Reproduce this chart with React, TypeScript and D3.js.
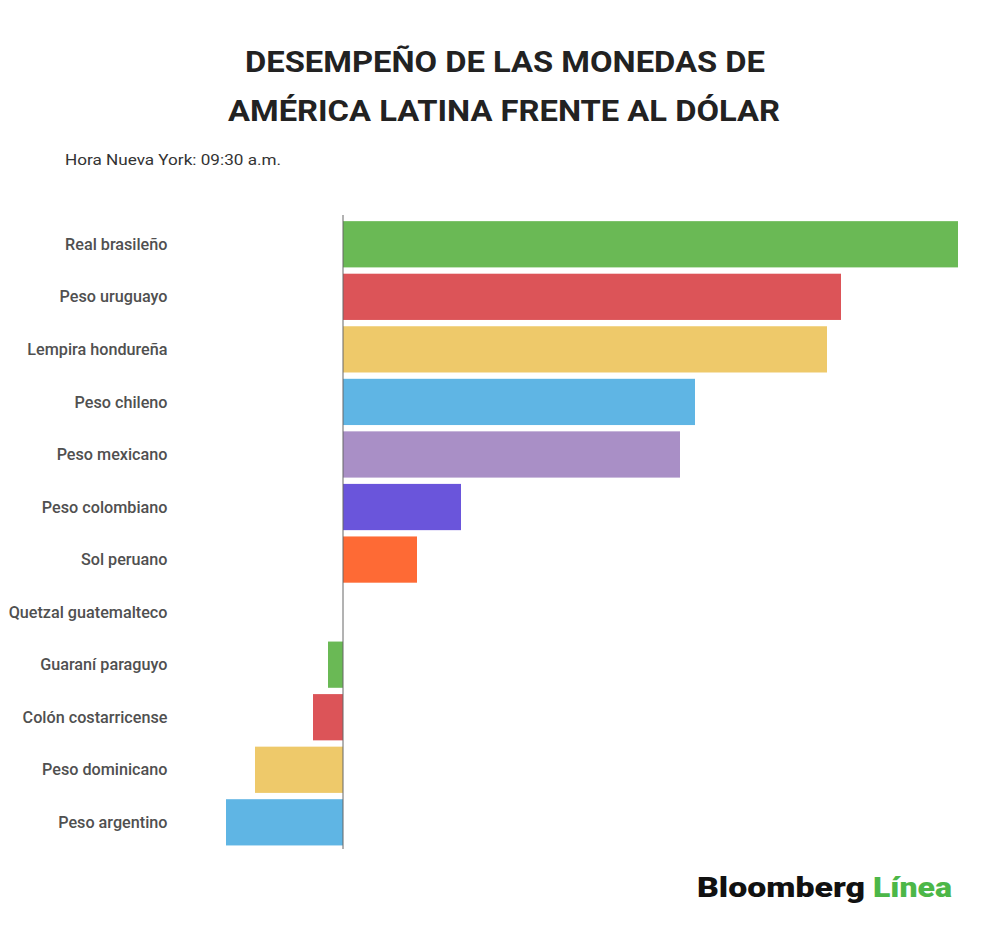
import React from 'react';
import * as d3 from 'd3';

// Currencies, top to bottom
const currencies = [
  'Real brasileño',
  'Peso uruguayo',
  'Lempira hondureña',
  'Peso chileno',
  'Peso mexicano',
  'Peso colombiano',
  'Sol peruano',
  'Quetzal guatemalteco',
  'Guaraní paraguyo',
  'Colón costarricense',
  'Peso dominicano',
  'Peso argentino',
];

// Change vs. dollar (%)
const changes = [1.23, 0.996, 0.968, 0.704, 0.674, 0.236, 0.148, 0, -0.03, -0.06, -0.176, -0.234];

// 8-colour cycle (the 8th falls on the zero-width Quetzal bar)
const palette = ['#6ab955', '#dc5458', '#eec96a', '#5fb5e4', '#a98fc6', '#6a55db', '#fe6a35', '#e36da5'];

const W = 1000;
const H = 925;

export default function App() {
  const x = d3
    .scaleLinear()
    .domain([d3.min(changes) as number, d3.max(changes) as number])
    .range([226, 958]);

  const y = d3
    .scaleBand<string>()
    .domain(currencies)
    .range([218, 848.6])
    .paddingInner(0.12)
    .paddingOuter(0.06);

  const x0 = x(0);

  return (
    <svg
      width={W}
      height={H}
      style={{ display: 'block', margin: '-8px 0 0 -8px', background: '#fff' }}
      fontFamily="Roboto, 'Noto Sans', sans-serif"
    >
      {/* Title */}
      <text
        x={505}
        y={72}
        textAnchor="middle"
        fontSize={30}
        fontWeight={700}
        fill="#222"
        textLength={520}
        lengthAdjust="spacingAndGlyphs"
      >
        DESEMPEÑO DE LAS MONEDAS DE
      </text>
      <text
        x={504}
        y={121}
        textAnchor="middle"
        fontSize={30}
        fontWeight={700}
        fill="#222"
        textLength={552}
        lengthAdjust="spacingAndGlyphs"
      >
        AMÉRICA LATINA FRENTE AL DÓLAR
      </text>
      <text
        x={65}
        y={165}
        fontSize={15}
        fill="#333"
        textLength={216}
        lengthAdjust="spacingAndGlyphs"
      >
        Hora Nueva York: 09:30 a.m.
      </text>

      {/* Bars */}
      {currencies.map((c, i) => {
        const v = changes[i];
        return (
          <rect
            key={c}
            x={Math.min(x(v), x0)}
            y={y(c)}
            width={Math.abs(x(v) - x0)}
            height={y.bandwidth()}
            fill={palette[i % palette.length]}
          />
        );
      })}

      {/* Category labels */}
      {currencies.map((c) => (
        <text
          key={c}
          x={167.5}
          y={(y(c) as number) + y.bandwidth() / 2}
          dy="0.35em"
          textAnchor="end"
          fontSize={16.2}
          fontWeight={500}
          fill="#505050"
        >
          {c}
        </text>
      ))}

      {/* Zero line */}
      <line x1={x0} x2={x0} y1={215} y2={849} stroke="#666" strokeWidth={1} />

      {/* Logo */}
      <text
        x={697}
        y={897}
        fontFamily="Roboto, 'Liberation Sans', Arial, sans-serif"
        fontSize={28}
        fontWeight={900}
        fill="#111"
        textLength={168}
        lengthAdjust="spacingAndGlyphs"
      >
        Bloomberg
      </text>
      <text
        x={873}
        y={897}
        fontFamily="Roboto, 'Liberation Sans', Arial, sans-serif"
        fontSize={28}
        fontWeight={900}
        fill="#4cb748"
        textLength={79}
        lengthAdjust="spacingAndGlyphs"
      >
        Línea
      </text>
    </svg>
  );
}
